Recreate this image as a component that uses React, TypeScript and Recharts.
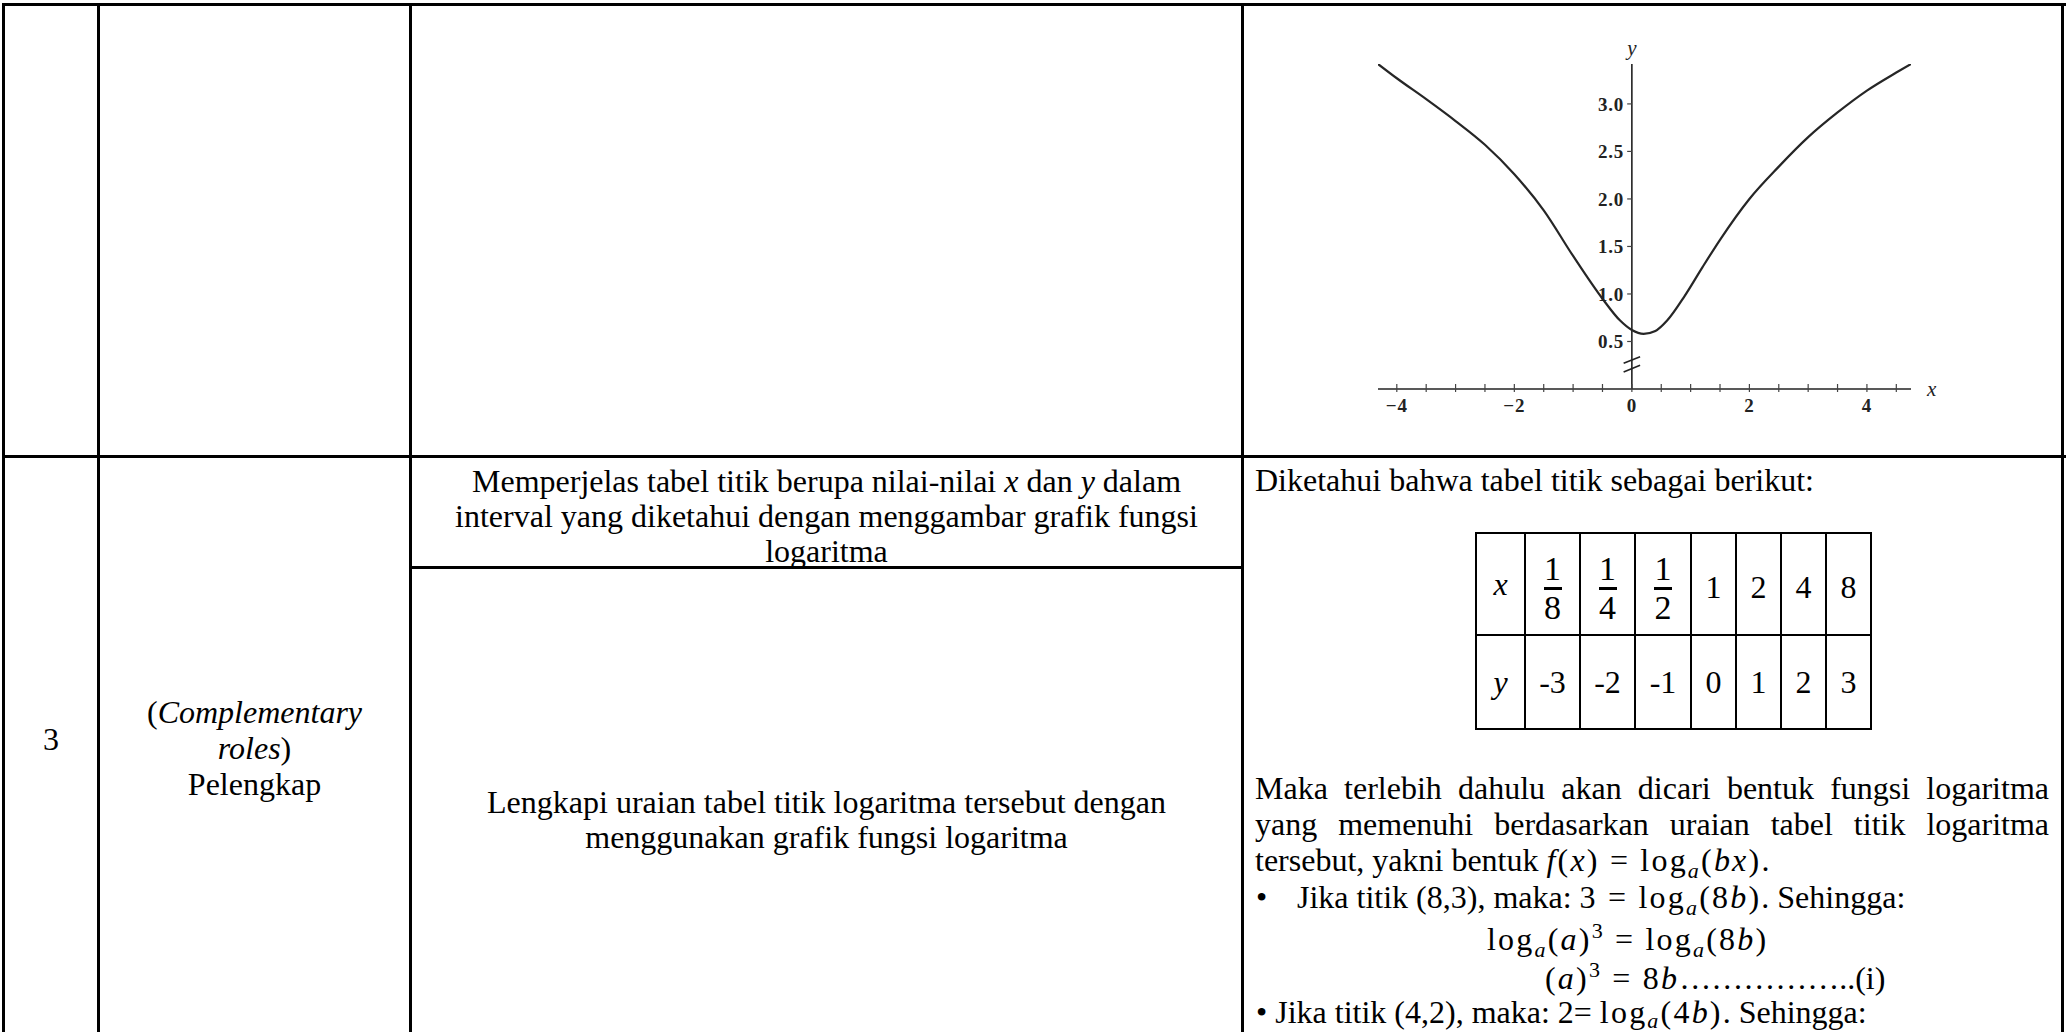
import React from "react";
import {
  LineChart,
  Line,
  XAxis,
  YAxis,
  ReferenceLine,
  ReferenceDot,
} from "recharts";

// curve (x, y)
const curveX = [
  -4.32, -4.0, -3.5, -3.0, -2.5, -2.0, -1.5, -1.0, -0.5, -0.2, 0.0, 0.2, 0.4,
  0.6, 0.9, 1.2, 1.5, 2.0, 2.5, 3.0, 3.5, 4.0, 4.5, 4.75,
];
const curveY = [
  3.42, 3.27, 3.05, 2.82, 2.57, 2.26, 1.88, 1.4, 0.95, 0.72, 0.62, 0.58, 0.61,
  0.72, 0.98, 1.28, 1.57, 2.0, 2.34, 2.65, 2.91, 3.14, 3.33, 3.42,
];

const xTicks = [
  -4, -3.5, -3, -2.5, -2, -1.5, -1, -0.5, 0, 0.5, 1, 1.5, 2, 2.5, 3, 3.5, 4,
  4.5,
];
const xLabelValues = [-4, -2, 0, 2, 4];
const xLabels = ["\u22124", "\u22122", "0", "2", "4"];
const yTicks = [0.5, 1, 1.5, 2, 2.5, 3];
const yLabels = ["0.5", "1.0", "1.5", "2.0", "2.5", "3.0"];

// the small table of points
const tableXNum = ["1", "1", "1"];
const tableXDen = ["8", "4", "2"];
const tableXInt = ["1", "2", "4", "8"];
const tableY = ["-3", "-2", "-1", "0", "1", "2", "3"];

const curveData = curveX.map((x, i) => ({ x, y: curveY[i] }));

const serif = '"Liberation Serif", "Times New Roman", serif';
const tickFont = {
  fontFamily: serif,
  fontSize: 19,
  fontWeight: 700,
  fill: "#222",
  letterSpacing: 0.8,
};

function XTick(props: any) {
  const { x, y, payload } = props;
  const i = xLabelValues.indexOf(payload.value);
  return (
    <g>
      <line x1={x} x2={x} y1={y - 5} y2={y + 3} stroke="#444" strokeWidth={1.2} />
      {i >= 0 && (
        <text x={x} y={y + 23} textAnchor="middle" {...tickFont}>
          {xLabels[i]}
        </text>
      )}
    </g>
  );
}

function Plot() {
  return (
    <div style={{ position: "absolute", left: 1290, top: 10 }}>
      <LineChart
        width={680}
        height={440}
        data={curveData}
        margin={{ top: 54, right: 59, bottom: 31, left: 88 }}
      >
        <XAxis
          dataKey="x"
          type="number"
          domain={[-4.32, 4.75]}
          allowDataOverflow
          ticks={xTicks}
          interval={0}
          height={30}
          tickSize={0}
          tickMargin={0}
          tickLine={false}
          axisLine={{ stroke: "#222", strokeWidth: 1.6 }}
          tick={<XTick />}
        />
        <YAxis hide type="number" domain={[0, 3.42]} allowDataOverflow />
        <ReferenceLine
          segment={[
            { x: 0, y: 0 },
            { x: 0, y: 3.42 },
          ]}
          stroke="#222"
          strokeWidth={1.6}
          label={{
            value: "y",
            position: "top",
            offset: 9,
            fontFamily: serif,
            fontStyle: "italic",
            fontSize: 21,
            fill: "#222",
          }}
        />
        {yTicks.map((v, i) => (
          <ReferenceLine
            key={v}
            segment={[
              { x: -0.08, y: v },
              { x: 0, y: v },
            ]}
            stroke="#444"
            strokeWidth={1.2}
            label={{ value: yLabels[i], position: "left", offset: 3, ...tickFont }}
          />
        ))}
        <ReferenceLine
          segment={[
            { x: -0.14, y: 0.27 },
            { x: 0.14, y: 0.34 },
          ]}
          stroke="#222"
          strokeWidth={1.6}
        />
        <ReferenceLine
          segment={[
            { x: -0.14, y: 0.18 },
            { x: 0.14, y: 0.25 },
          ]}
          stroke="#222"
          strokeWidth={1.6}
        />
        <ReferenceDot
          x={4.75}
          y={0}
          r={0}
          fill="none"
          stroke="none"
          ifOverflow="visible"
          label={{
            value: "x",
            position: "right",
            offset: 16,
            fontFamily: serif,
            fontStyle: "italic",
            fontSize: 21,
            fill: "#222",
          }}
        />
        <Line
          dataKey="y"
          type="monotone"
          stroke="#262626"
          strokeWidth={2.2}
          dot={false}
          isAnimationActive={false}
        />
      </LineChart>
    </div>
  );
}

function Txt({ x, cy, w, align, style, children }: any) {
  return (
    <div
      style={{
        position: "absolute",
        left: x,
        top: cy - 19,
        width: w,
        height: 36,
        lineHeight: "36px",
        fontSize: 32,
        textAlign: align || "left",
        whiteSpace: "nowrap",
        ...style,
      }}
    >
      {children}
    </div>
  );
}

// a justified line: words spread over the full width
function JLine({ x, cy, w, text }: any) {
  return (
    <Txt x={x} cy={cy} w={w} style={{ display: "flex", justifyContent: "space-between" }}>
      {text.split(" ").map((word: string, i: number) => (
        <span key={i}>{word}</span>
      ))}
    </Txt>
  );
}

function Sub({ children, drop = 7 }: any) {
  return (
    <span style={{ fontSize: 22, fontStyle: "italic", position: "relative", top: drop }}>
      {children}
    </span>
  );
}

function Sup({ children }: any) {
  return (
    <span style={{ fontSize: 22, position: "relative", top: -12 }}>{children}</span>
  );
}

function M({ children }: any) {
  return <span style={{ letterSpacing: 2.2 }}>{children}</span>;
}

function HLine({ x, y, w, t = 3 }: any) {
  return (
    <div style={{ position: "absolute", left: x, top: y, width: w, height: t, background: "#000" }} />
  );
}

function VLine({ x, y, h, t = 3 }: any) {
  return (
    <div style={{ position: "absolute", left: x, top: y, width: t, height: h, background: "#000" }} />
  );
}

const colEdges = [1476, 1525, 1580, 1635, 1691, 1736, 1781, 1826, 1871];
const rowEdges = [533, 635, 729];

function PointTable() {
  const cell = (i: number, r: number, content: any) => (
    <div
      key={`${r}-${i}`}
      style={{
        position: "absolute",
        left: colEdges[i],
        top: rowEdges[r],
        width: colEdges[i + 1] - colEdges[i],
        height: rowEdges[r + 1] - rowEdges[r],
        display: "flex",
        alignItems: "center",
        justifyContent: "center",
        fontSize: 32,
      }}
    >
      {content}
    </div>
  );
  const frac = (n: string, d: string) => (
    <div style={{ display: "flex", flexDirection: "column", alignItems: "center", paddingTop: 8 }}>
      <div style={{ height: 24, lineHeight: "24px", fontSize: 34 }}>{n}</div>
      <div style={{ width: 18, height: 3, background: "#000", margin: "6px 0" }} />
      <div style={{ height: 24, lineHeight: "24px", fontSize: 34 }}>{d}</div>
    </div>
  );
  const cells = [];
  cells.push(cell(0, 0, <i>x</i>));
  tableXNum.forEach((n, k) => cells.push(cell(k + 1, 0, frac(n, tableXDen[k]))));
  tableXInt.forEach((v, k) => cells.push(cell(k + 4, 0, <span style={{ paddingTop: 6 }}>{v}</span>)));
  cells.push(cell(0, 1, <i>y</i>));
  tableY.forEach((v, k) => cells.push(cell(k + 1, 1, v)));
  return (
    <>
      {cells}
      {colEdges.map((x) => (
        <VLine key={x} x={x - 1} y={rowEdges[0] - 1} h={rowEdges[2] - rowEdges[0] + 2} t={2} />
      ))}
      {rowEdges.map((y) => (
        <HLine key={y} x={colEdges[0] - 1} y={y - 1} w={colEdges[8] - colEdges[0] + 2} t={2} />
      ))}
    </>
  );
}

export default function App() {
  return (
    <div
      style={{
        position: "absolute",
        left: 0,
        top: 0,
        width: 2066,
        height: 1032,
        overflow: "hidden",
        background: "#fff",
        color: "#000",
        fontFamily: serif,
      }}
    >
      {/* outer grid */}
      <HLine x={2} y={3} w={2064} />
      <HLine x={2} y={455} w={2064} />
      <HLine x={409} y={566} w={835} />
      <VLine x={2} y={3} h={1029} />
      <VLine x={97} y={3} h={1029} />
      <VLine x={409} y={3} h={1029} />
      <VLine x={1241} y={3} h={1029} />
      <VLine x={2061} y={3} h={1029} />

      <Plot />

      {/* column 1 and 2 */}
      <Txt x={5} cy={740} w={92} align="center">3</Txt>
      <Txt x={100} cy={713} w={309} align="center">
        (<i>Complementary</i>
      </Txt>
      <Txt x={100} cy={749} w={309} align="center">
        <i>roles</i>)
      </Txt>
      <Txt x={100} cy={785} w={309} align="center">Pelengkap</Txt>

      {/* column 3 */}
      <Txt x={412} cy={482} w={829} align="center">
        Memperjelas tabel titik berupa nilai-nilai <i>x</i> dan <i>y</i> dalam
      </Txt>
      <Txt x={412} cy={517} w={829} align="center">
        interval yang diketahui dengan menggambar grafik fungsi
      </Txt>
      <Txt x={412} cy={552} w={829} align="center">logaritma</Txt>
      <Txt x={412} cy={803} w={829} align="center">
        Lengkapi uraian tabel titik logaritma tersebut dengan
      </Txt>
      <Txt x={412} cy={838} w={829} align="center">
        menggunakan grafik fungsi logaritma
      </Txt>

      {/* column 4 */}
      <Txt x={1255} cy={481} w={790}>Diketahui bahwa tabel titik sebagai berikut:</Txt>
      <PointTable />
      <JLine x={1255} cy={789} w={794} text="Maka terlebih dahulu akan dicari bentuk fungsi logaritma" />
      <JLine x={1255} cy={825} w={794} text="yang memenuhi berdasarkan uraian tabel titik logaritma" />
      <Txt x={1255} cy={861} w={794}>
        tersebut, yakni bentuk{" "}
        <M>
          <i>f</i>(<i>x</i>) = log<Sub>a</Sub>(<i>bx</i>)
        </M>
        .
      </Txt>
      <Txt x={1256} cy={898} w={40}>•</Txt>
      <Txt x={1297} cy={898} w={750}>
        Jika titik (8,3), maka:{" "}
        <M>
          3 = log<Sub>a</Sub>(8<i>b</i>)
        </M>
        . Sehingga:
      </Txt>
      <Txt x={1487} cy={940} w={500}>
        <M>
          log<Sub>a</Sub>(<i>a</i>)<Sup>3</Sup> = log<Sub>a</Sub>(8<i>b</i>)
        </M>
      </Txt>
      <Txt x={1545} cy={979} w={500}>
        <M>
          (<i>a</i>)<Sup>3</Sup> = 8<i>b</i>
        </M>
        ……………..(i)
      </Txt>
      <Txt x={1256} cy={1013} w={790} style={{ height: 32 }}>
        • Jika titik (4,2), maka: 2={" "}
        <M>
          log<Sub drop={5}>a</Sub>(4<i>b</i>)
        </M>
        . Sehingga:
      </Txt>
    </div>
  );
}
